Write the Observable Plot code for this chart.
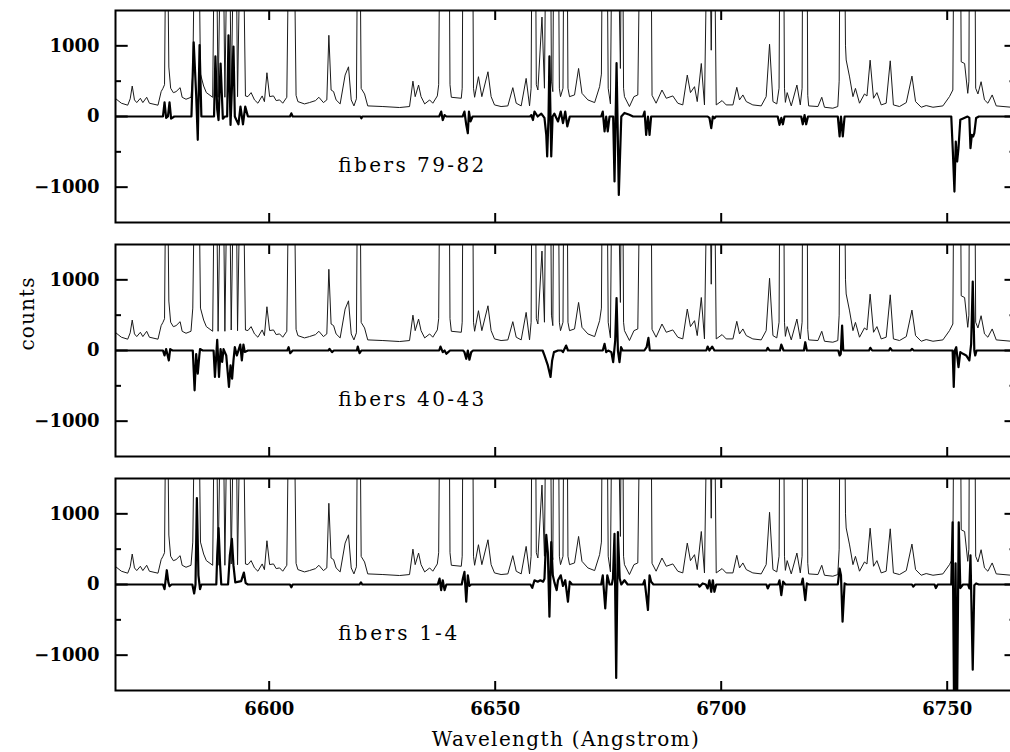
<!DOCTYPE html>
<html><head><meta charset="utf-8">
<script src="https://cdn.jsdelivr.net/npm/d3@7"></script>
<script src="https://cdn.jsdelivr.net/npm/@observablehq/plot@0.6"></script>
<style>
html,body{margin:0;padding:0;background:#fff;overflow:hidden;}
#chart svg{max-width:none !important;}
</style></head><body><div id="chart"></div>
<script>
// ---- data ----
const panels = ["79-82", "40-43", "1-4"];
const panelLabels = ["fibers 79-82", "fibers 40-43", "fibers 1-4"];
const labelWave = [6615.3, 6615.3, 6615.3];
const labelCounts = [-700, -700, -700];
const xTicks = [6600, 6650, 6700, 6750];
const yTicks = [-1000, 0, 1000];
const yMinorTicks = [-500, 500];
const xLabel = "Wavelength (Angstrom)";
const yLabel = "counts";

// sky spectrum (thin line, same in every panel)
const skyWave = [6566.1,6567.3,6568.7,6569.25,6569.7,6570.2,6570.7,6571.5,6572.05,6572.9,6573.5,6575.4,6576.1,6576.5,6576.85,6577.3,6577.8,6578.2,6578.8,6579.4,6580.3,6580.75,6581.6,6582.7,6583.1,6584.0,6584.8,6585.5,6586.1,6587.5,6588.1,6588.7,6589.6,6590.2,6591.0,6591.6,6592.5,6593.0,6593.95,6594.75,6595.3,6596.0,6596.75,6597.5,6598.45,6598.95,6599.5,6600.1,6600.95,6601.55,6602.3,6603.0,6603.9,6604.4,6604.95,6605.45,6605.95,6606.35,6607.8,6608.9,6610.25,6611.0,6612.0,6612.75,6613.2,6613.7,6614.25,6614.8,6615.7,6616.8,6617.55,6618.15,6618.75,6619.3,6619.8,6620.35,6621.1,6621.8,6625.15,6628.85,6631.05,6631.8,6632.3,6633.05,6633.6,6634.4,6635.5,6636.2,6637.2,6637.5,6637.9,6639.7,6640.0,6640.3,6642.5,6642.7,6643.0,6644.9,6645.2,6645.45,6646.3,6647.05,6648.4,6649.1,6649.85,6651.3,6652.8,6653.9,6654.65,6655.75,6656.85,6657.6,6657.95,6658.25,6658.8,6659.1,6659.45,6660.35,6660.9,6661.4,6662.1,6662.45,6662.75,6663.1,6663.85,6664.2,6664.45,6665.0,6665.3,6665.8,6666.1,6666.45,6667.55,6668.45,6669.2,6670.5,6672.0,6673.1,6673.5,6673.85,6674.6,6675.0,6675.5,6676.0,6676.8,6677.7,6678.1,6678.4,6678.6,6679.7,6680.7,6681.55,6682.3,6684.35,6684.7,6685.6,6686.9,6687.85,6689.3,6690.4,6691.5,6692.5,6693.2,6694.1,6694.7,6695.6,6696.3,6697.2,6697.8,6698.3,6698.9,6700.2,6701.1,6702.6,6703.45,6704.05,6704.8,6705.55,6707.0,6708.85,6709.95,6710.7,6711.45,6712.3,6712.8,6713.1,6713.7,6714.0,6714.2,6714.6,6715.5,6716.75,6717.5,6717.9,6718.1,6718.9,6719.15,6719.35,6721.4,6722.25,6722.85,6724.7,6725.8,6726.1,6726.4,6727.1,6727.5,6727.65,6728.4,6729.15,6729.7,6730.6,6731.7,6732.25,6732.95,6733.7,6734.45,6735.4,6736.5,6737.4,6738.1,6739.45,6740.95,6742.2,6743.0,6744.25,6745.35,6746.85,6749.05,6750.5,6751.25,6751.6,6752.8,6753.1,6753.85,6754.55,6754.8,6755.0,6756.0,6756.3,6756.8,6757.5,6758.25,6759.0,6759.95,6760.85,6764.2,6765];
const skyCounts = [249,188,160,250,431,235,197,258,197,272,188,160,352,399,450,4000,700,400,337,352,408,272,244,272,600,5000,600,431,338,272,4000,272,4000,272,4000,290,4000,280,4000,290,282,338,235,188,291,210,619,282,291,225,235,188,272,3000,6000,3000,300,211,178,197,225,272,197,235,1149,375,352,235,178,586,703,235,150,250,5000,398,319,150,141,127,141,500,281,445,281,178,234,188,291,450,4000,4000,450,272,258,400,4000,4000,400,272,563,281,633,281,164,141,150,408,188,150,539,150,400,4000,4000,450,375,1407,400,4000,4000,500,352,4000,4000,400,281,400,4000,4000,400,281,305,680,328,235,197,422,600,4000,4000,400,178,4000,4000,680,4000,400,281,141,281,305,4000,4000,300,188,375,258,291,188,164,586,338,422,211,750,164,4000,938,4000,164,225,164,164,413,235,305,211,164,150,281,1022,211,178,400,4000,4000,400,200,338,150,445,164,400,4000,4000,300,150,141,272,131,117,141,500,4000,4000,1000,800,560,281,398,188,319,290,797,258,338,164,188,788,164,141,197,572,211,131,155,131,150,281,375,4000,4000,774,750,328,500,4000,4000,400,319,492,235,188,305,150,131,131];

// residuals, fibers 79-82
const res1Wave = [6566.1,6576.5,6576.85,6577.2,6577.6,6577.95,6578.3,6579.0,6582.8,6583.3,6583.85,6584.2,6584.6,6585.0,6587.8,6588.1,6588.5,6588.8,6589.25,6589.75,6590.2,6590.7,6591.0,6591.45,6592.1,6592.4,6592.75,6593.2,6593.65,6594.2,6594.7,6595.3,6604.6,6604.9,6605.2,6620.2,6620.4,6620.6,6637.6,6638.05,6638.4,6638.8,6639.2,6642.8,6643.2,6643.6,6643.95,6644.2,6644.55,6645.0,6657.7,6658.0,6658.35,6658.7,6659.4,6660.2,6660.9,6661.3,6661.5,6661.8,6662.0,6662.4,6662.7,6663.1,6663.9,6664.5,6665.0,6665.5,6665.95,6666.5,6673.45,6673.8,6674.2,6674.55,6674.9,6675.3,6676.1,6676.4,6676.85,6677.35,6677.9,6678.6,6679.7,6680.5,6682.7,6683.05,6683.4,6683.8,6684.15,6684.5,6697.0,6697.4,6697.8,6698.15,6698.5,6698.8,6712.5,6712.9,6713.3,6713.65,6714.0,6717.7,6718.05,6718.45,6718.8,6719.2,6725.8,6726.2,6726.5,6726.9,6727.3,6750.9,6751.25,6751.6,6751.9,6752.2,6752.5,6752.9,6754.5,6754.9,6755.15,6755.45,6755.75,6756.0,6756.4,6757.0,6765];
const res1Counts = [0,0,200,-20,0,200,-30,0,0,1050,300,-330,1010,0,0,850,100,-50,750,-30,0,0,1150,-120,990,0,-50,-110,140,-110,140,0,0,45,0,0,-25,0,0,70,-50,20,0,0,70,-118,-236,70,-70,0,0,20,-50,70,0,40,-20,-260,-566,0,850,-566,0,40,-70,70,-94,70,-140,0,0,70,-212,0,-212,0,0,-920,755,-1110,0,50,25,0,0,70,-260,0,-260,0,0,-20,-165,0,-25,0,0,-118,-20,-110,0,0,-110,20,-110,0,0,-283,0,-283,0,0,-496,-1062,-354,-637,-448,-47,0,-20,-448,-260,-283,-236,-20,0,0];

// residuals, fibers 40-43
const res2Wave = [6566.1,6576.5,6576.85,6577.2,6577.8,6578.1,6578.6,6583.1,6583.5,6583.85,6584.2,6584.55,6584.7,6585.3,6587.7,6588.0,6588.5,6588.9,6589.25,6589.6,6589.9,6590.5,6591.1,6591.45,6591.8,6592.1,6592.4,6592.85,6593.6,6593.95,6594.3,6594.6,6595.3,6604.0,6604.3,6604.65,6605.2,6613.1,6613.35,6613.9,6614.3,6619.4,6619.6,6620.0,6620.4,6637.6,6637.9,6638.4,6638.8,6639.2,6639.6,6640.0,6642.9,6643.2,6643.6,6643.95,6644.3,6644.7,6645.1,6660.5,6660.9,6661.65,6662.25,6662.6,6663.0,6663.9,6664.7,6665.0,6665.7,6666.1,6673.8,6674.2,6674.55,6675.0,6675.7,6676.1,6676.55,6676.85,6677.15,6677.5,6677.85,6678.2,6683.0,6683.5,6683.9,6684.2,6696.7,6697.0,6697.4,6698.0,6698.5,6710.0,6710.3,6710.7,6713.0,6713.3,6713.8,6718.3,6718.6,6718.95,6725.9,6726.2,6726.45,6726.75,6727.0,6732.7,6733.0,6733.4,6737.1,6737.4,6737.8,6741.9,6742.2,6742.6,6751.2,6751.45,6751.7,6752.0,6752.5,6752.9,6753.5,6754.2,6754.9,6755.3,6755.65,6756.0,6756.2,6756.5,6765];
const res2Counts = [0,0,-70,20,-141,20,0,0,-563,-50,-328,-70,20,0,0,-375,150,-375,20,-160,20,-70,-516,-210,-398,-140,47,-70,84,-141,84,-20,0,0,47,-38,0,0,23,-23,0,0,56,-38,0,0,56,-23,0,-47,-23,0,0,-23,-117,0,-131,-23,0,0,-70,-211,-375,-140,-23,0,0,-23,70,0,0,94,-23,0,-23,-164,140,741,0,-164,47,0,0,47,178,0,0,56,0,56,0,0,38,0,0,84,0,0,117,0,0,-70,-50,352,0,0,38,0,0,33,0,0,23,0,0,-516,0,47,-234,-23,-47,-70,-141,94,975,0,-70,0,0];

// residuals, fibers 1-4
const res3Wave = [6566.1,6576.5,6576.85,6577.35,6577.7,6577.95,6578.4,6583.0,6583.4,6583.7,6584.0,6584.35,6584.7,6585.0,6587.9,6588.3,6588.5,6588.8,6589.15,6589.4,6590.9,6591.3,6591.75,6592.1,6592.5,6593.8,6594.4,6594.8,6595.3,6604.6,6604.9,6605.2,6620.0,6620.3,6620.6,6637.3,6637.7,6638.05,6638.4,6638.8,6639.2,6642.6,6642.85,6643.2,6643.6,6643.95,6644.3,6644.7,6657.8,6658.2,6658.7,6659.4,6660.0,6660.6,6660.9,6661.3,6661.65,6662.0,6662.4,6662.75,6663.1,6663.6,6663.9,6664.5,6665.0,6665.5,6666.1,6666.5,6667.0,6673.45,6673.8,6674.35,6674.8,6675.3,6675.8,6676.05,6676.4,6676.77,6677.15,6677.55,6677.9,6678.6,6679.3,6682.7,6683.05,6683.8,6684.15,6684.5,6685.0,6694.9,6695.2,6695.9,6696.6,6697.0,6697.4,6697.8,6698.15,6698.5,6698.9,6710.0,6710.3,6710.7,6712.6,6712.9,6713.3,6713.7,6714.2,6717.75,6718.05,6718.6,6718.95,6719.4,6725.8,6726.2,6726.5,6726.85,6727.3,6727.8,6742.2,6742.5,6742.9,6747.2,6747.5,6747.9,6750.9,6751.2,6751.55,6751.85,6752.15,6752.55,6752.9,6753.5,6754.6,6754.9,6755.15,6755.65,6756.0,6756.4,6757.0,6765];
const res3Counts = [0,0,-66,202,30,-25,0,0,-127,0,1224,130,-66,0,0,0,413,797,270,0,0,413,647,270,30,47,169,20,0,0,-40,0,0,30,0,0,84,-80,60,-80,0,0,84,178,-244,130,-20,0,0,-47,60,40,60,40,80,703,450,-455,600,130,30,-80,60,130,-20,60,-244,40,0,0,130,-338,130,0,0,84,717,-1323,741,84,0,60,0,0,60,-361,131,40,0,0,-30,15,0,-56,60,-103,60,-103,0,0,-56,0,0,60,-150,40,0,0,84,-220,15,0,0,225,130,-525,15,0,0,-30,0,0,-50,0,0,880,-2000,300,-2000,880,-50,0,0,-56,413,-1205,-10,15,0,0];

// ---- build tables ----
const sky = skyWave.map((w, i) => ({wave: w, counts: skyCounts[i]}));
const residSets = [[res1Wave, res1Counts], [res2Wave, res2Counts], [res3Wave, res3Counts]];
const resid = residSets.flatMap(([w, c], k) => w.map((x, i) => ({wave: x, counts: c[i], panel: panels[k]})));
const labels = panels.map((p, i) => ({panel: p, text: panelLabels[i], wave: labelWave[i], counts: labelCounts[i]}));

const W = 1016, ML = 115, MR = 1.5;
const frameW = W - ML - MR;
const fmt = d => (d < 0 ? "\u2212" : "") + Math.abs(d);

const chart = Plot.plot({
  width: W, height: 752,
  marginTop: 9, marginBottom: 61, marginLeft: ML, marginRight: MR,
  x: {domain: [6566, 6765]},
  y: {domain: [-1500, 1500]},
  fy: {domain: panels, paddingInner: 0.092, paddingOuter: 0, axis: null, label: null},
  style: {fontFamily: "'DejaVu Serif', serif", fontSize: "20px", color: "#000", background: "#fff", overflow: "visible", maxWidth: "none"},
  marks: [
    Plot.line(sky, {x: "wave", y: "counts", stroke: "#1a1a1a", strokeWidth: 1, clip: true}),
    Plot.line(resid, {x: "wave", y: "counts", fy: "panel", z: "panel", stroke: "#000", strokeWidth: 2.2, clip: true}),
    Plot.frame({strokeWidth: 2}),
    // inward ticks
    Plot.tickX(xTicks, {x: d => d, insetTop: 203, strokeWidth: 2}),
    Plot.tickX(xTicks, {x: d => d, insetBottom: 202, strokeWidth: 2}),
    Plot.tickY(yTicks, {y: d => d, insetRight: frameW - 12.7, strokeWidth: 2}),
    Plot.tickY(yTicks, {y: d => d, insetLeft: frameW - 10, strokeWidth: 2}),
    Plot.tickY(yMinorTicks, {y: d => d, insetRight: frameW - 6, strokeWidth: 2}),
    Plot.tickY(yMinorTicks, {y: d => d, insetLeft: frameW - 5, strokeWidth: 2}),
    // tick labels
    Plot.axisX(xTicks, {anchor: "bottom", tickSize: 0, tickPadding: 12, label: null, tickFormat: fmt, fontSize: 18, fontWeight: "bold"}),
    Plot.axisY(yTicks, {anchor: "left", tickSize: 0, tickPadding: 16, label: null, tickFormat: fmt, fontSize: 18, fontWeight: "bold"}),
    // panel labels
    Plot.text(labels, {x: "wave", y: "counts", text: "text", fy: "panel", textAnchor: "start", lineAnchor: "middle", fontSize: 20}),
    // axis titles
    Plot.text([{t: yLabel, panel: panels[1]}], {text: "t", fy: "panel", frameAnchor: "left", dx: -88, rotate: -90, lineAnchor: "middle", fontSize: 20}),
    Plot.text([{t: xLabel, panel: panels[2]}], {text: "t", fy: "panel", frameAnchor: "bottom", dy: 49, lineAnchor: "middle", fontSize: 20})
  ]
});

document.getElementById("chart").appendChild(chart);

// fit text widths to the monospaced look of the reference
const widths = {"fibers 79-82": 146, "fibers 40-43": 146, "fibers 1-4": 119, "counts": 73, "Wavelength (Angstrom)": 267};
d3.select(chart).selectAll("text").each(function() {
  const t = this.textContent;
  if (widths[t] && this.childElementCount === 0) {
    this.setAttribute("textLength", widths[t]);
    this.setAttribute("lengthAdjust", "spacing");
  }
});
</script>
</body></html>
